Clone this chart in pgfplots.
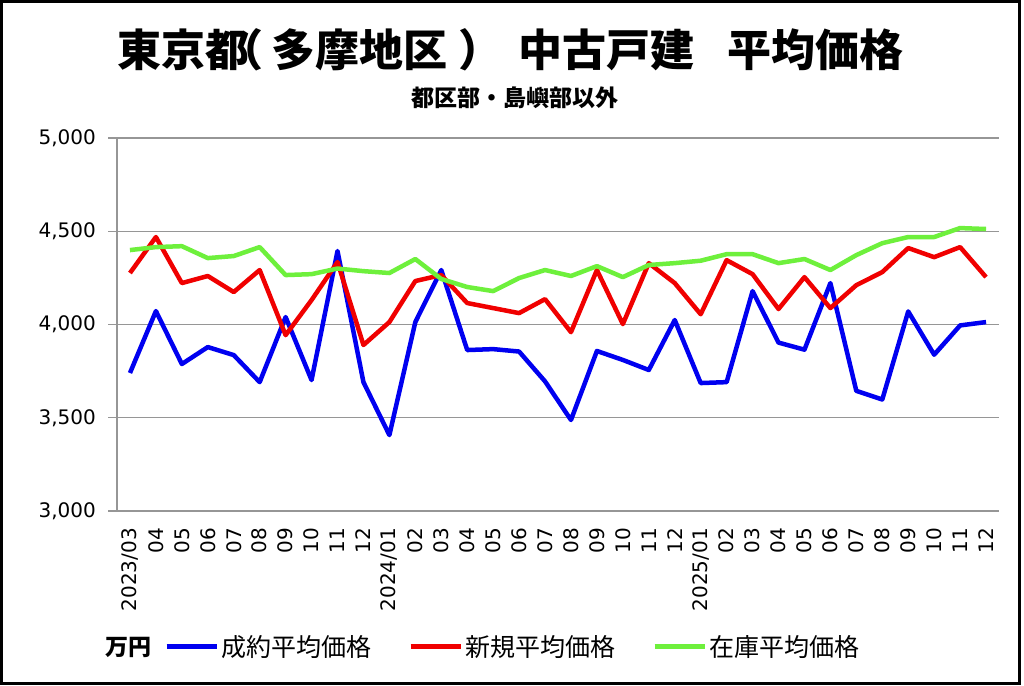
\documentclass[border=0pt]{standalone}
\usepackage{pgfplots}
\usepackage{pgfplotstable}
\pgfplotsset{compat=1.18}
\usepackage{fontspec}
\setmainfont{DejaVu Sans}
\newfontfamily\jp{Noto Sans CJK JP}

\definecolor{cBlue}{RGB}{0,0,240}
\definecolor{cRed}{RGB}{240,0,0}
\definecolor{cGreen}{RGB}{110,240,60}
\definecolor{cGrid}{RGB}{150,150,150}

% idx  seiyaku  shinki  zaiko   (万円)
\pgfplotstableread{
idx seiyaku shinki zaiko
0  3740 4276 4399
1  4072 4469 4415
2  3788 4222 4420
3  3879 4260 4356
4  3836 4174 4367
5  3691 4292 4415
6  4040 3943 4265
7  3702 4131 4270
8  4394 4335 4300
9  3691 3890 4286
10 3407 4013 4276
11 4013 4233 4351
12 4292 4265 4244
13 3863 4115 4201
14 3868 4088 4179
15 3855 4061 4249
16 3695 4136 4292
17 3488 3959 4260
18 3858 4292 4313
19 3810 4002 4254
20 3756 4329 4319
21 4024 4222 4329
22 3686 4055 4342
23 3691 4345 4377
24 4179 4270 4377
25 3903 4083 4329
26 3865 4254 4351
27 4222 4088 4292
28 3644 4211 4372
29 3598 4281 4436
30 4070 4410 4469
31 3838 4361 4469
32 3995 4415 4517
33 4013 4254 4512
}\prices

\begin{document}
\begin{tikzpicture}[x=1pt,y=1pt]
\fill[white] (0,0) rectangle (1024,685);
\draw[black, line width=3pt] (1.5,2) rectangle (1019.5,683);

\node[font=\jp\bfseries\fontsize{44}{52}\selectfont, anchor=west, inner sep=0pt] at (117,635)
  {東京都\hspace{-30pt}（\hspace{8pt}多摩地区\hspace{11pt}）\hspace{16pt}中古戸建\hspace{33pt}平均価格};
\node[font=\jp\bfseries\fontsize{23}{28}\selectfont] at (515,587) {都区部・島嶼部以外};
\node[font=\jp\bfseries\fontsize{23}{28}\selectfont] at (128,38) {万円};

\begin{axis}[
  at={(117pt,174pt)}, anchor=south west,
  scale only axis, width=882pt, height=373pt,
  xmin=-0.5, xmax=33.5, ymin=3000, ymax=5000,
  axis lines*=left,
  axis line style={cGrid, line width=1.2pt},
  tick align=outside,
  ytick={3000,3500,...,5000},
  ymajorgrids,
  major grid style={cGrid, line width=1.2pt},
  ytick style={cGrid, line width=1.2pt},
  major tick length=9pt,
  minor tick length=9pt,
  xtick={0,...,33},
  xtick style={draw=none},
  minor xtick={-0.5,0.5,...,33.5},
  minor x tick style={cGrid, line width=1.2pt},
  xticklabels={2023/03,04,05,06,07,08,09,10,11,12,2024/01,02,03,04,05,06,07,08,09,10,11,12,2025/01,02,03,04,05,06,07,08,09,10,11,12},
  /pgf/number format/assume math mode=true,
  ticklabel style={font=\fontsize{20}{24}\selectfont},
  xticklabel style={rotate=90, anchor=east, inner sep=0pt},
  xticklabel shift=8pt,
  yticklabel style={inner sep=0pt},
  yticklabel shift=12pt,
  legend columns=3,
  legend style={draw=none, fill=none, inner sep=0pt, at={(0.0533,-0.3646)}, anchor=west,
    font=\jp\fontsize{25}{30}\selectfont, cells={anchor=west},
    /tikz/every even column/.append style={column sep=35pt}},
  legend image code/.code={\draw[#1, line width=5pt] (0pt,0pt) -- (50pt,0pt);},
  every axis plot/.append style={line width=4.5pt, line join=round, mark=none},
]
\addplot[cBlue] table[x=idx, y=seiyaku] {\prices};
\addlegendentry{成約平均価格}
\addplot[cRed] table[x=idx, y=shinki] {\prices};
\addlegendentry{新規平均価格}
\addplot[cGreen] table[x=idx, y=zaiko] {\prices};
\addlegendentry{在庫平均価格}
\end{axis}
\end{tikzpicture}
\end{document}
